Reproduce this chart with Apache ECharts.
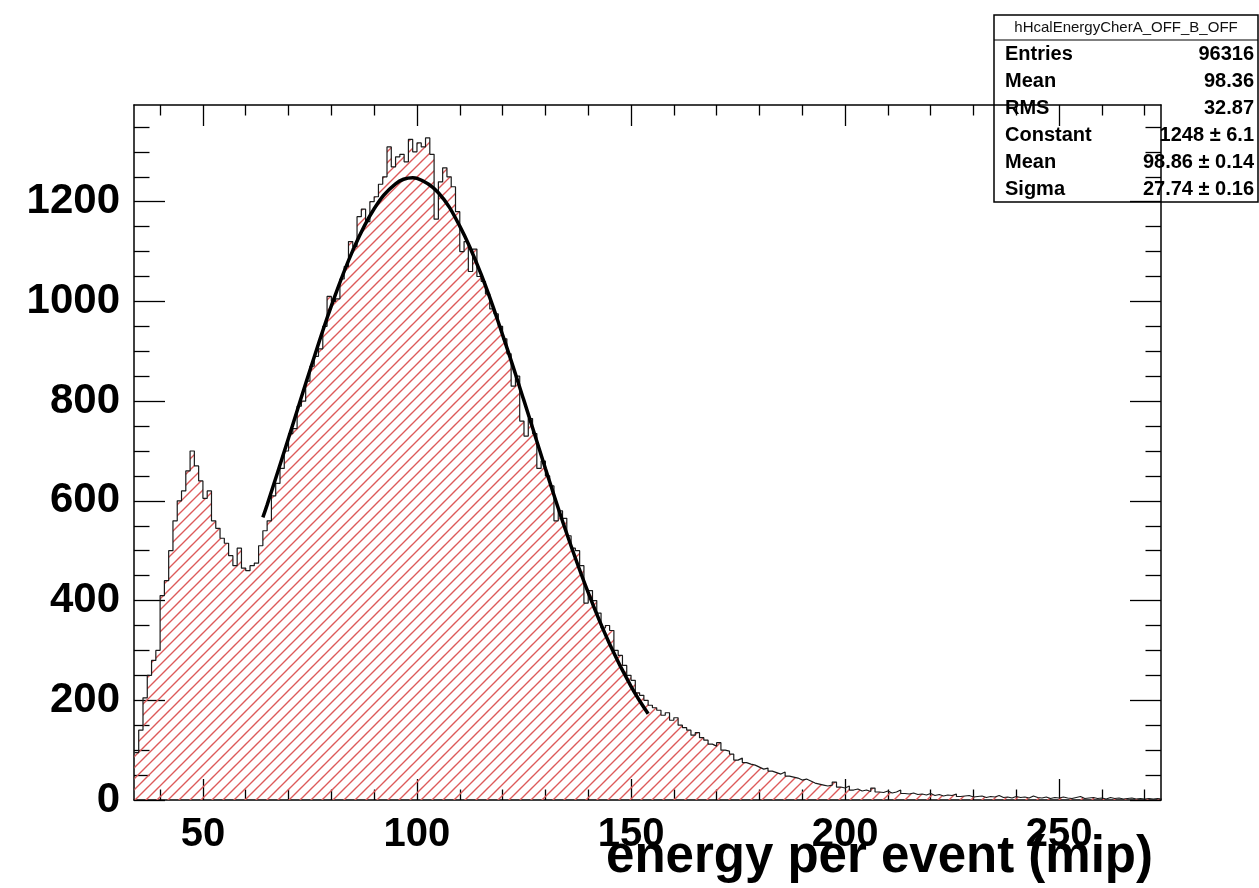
<!DOCTYPE html>
<html><head><meta charset="utf-8">
<script src="https://cdn.jsdelivr.net/npm/echarts@6/dist/echarts.min.js"></script>
<style>html,body{margin:0;padding:0;background:#fff}#c{width:1259px;height:888px}</style>
</head><body><div id="c"></div>
<script>
// ---- data ----
const binStart = 34;      // left edge of first bin (mip)
const binWidth = 1;       // bin width (mip)
const counts = [
  95,140,205,250,280,300,410,440,500,560,600,620,660,700,670,640,605,620,560,545,525,515,490,470,505,465,460,470,475,510,540,560,
  610,635,665,700,735,745,790,800,840,870,
  890,905,950,1010,1000,1005,1045,1070,1120,1110,
  1170,1185,1160,1200,1210,1235,1250,1310,1270,1290,
  1295,1280,1325,1300,1318,1310,1328,1295,1165,1240,
  1268,1250,1230,1180,1100,1120,1060,1105,1050,1040,
  1015,985,975,950,925,895,830,850,760,730,
  765,735,665,680,650,630,560,580,565,530,
  505,500,470,395,420,400,375,345,350,340,
  300,290,270,250,240,215,210,200,190,
  185,180,170,175,160,165,150,145,140,130,
  135,125,120,112,108,115,100,98,92,80,
  84,75,72,70,66,62,64,58,55,52,
  56,48,46,44,40,42,38,34,32,30,
  28,30,36,26,24,28,20,22,18,20,
  17,24,16,15,18,14,16,20,13,12,
  14,11,12,10,13,9,11,8,10,9,
  12,7,8,9,6,7,8,5,7,6,
  9,5,6,4,7,5,6,4,8,5,
  4,6,3,5,4,6,4,3,5,7,
  3,4,5,3,4,2,5,3,4,2,
  3,4,2,3,2,3,2,3,2
];
const fitX = [64,65,70,75,80,85,90,95,99,100,105,110,115,120,125,130,135,140,145,150,154];
const fitY = [567,592,726,862,991,1102,1186,1236,1248,1247,1218,1151,1054,933,801,665,534,416,313,228,173];

const xMin = 33.9, xMax = 273.8;
const yMin = 0, yMax = 1394;
const xMajorTicks = [50,100,150,200,250];
const xMinorTicks = [40,60,70,80,90,110,120,130,140,160,170,180,190,210,220,230,240,260,270];
const yMajorTicks = [0,200,400,600,800,1000,1200];
const yMinorTicks = [50,100,150,250,300,350,450,500,550,650,700,750,850,900,950,1050,1100,1150,1250,1300,1350];
const xTitle = 'energy per event (mip)';
const statsTitle = 'hHcalEnergyCherA_OFF_B_OFF';
const statsNames = ['Entries','Mean','RMS','Constant','Mean','Sigma'];
const statsValues = ['96316','98.36','32.87','1248 \u00b1 6.1','98.86 \u00b1 0.14','27.74 \u00b1 0.16'];

// ---- build ----
const FONT = '"Liberation Sans", Arial, Helvetica, sans-serif';
function hatch(){
  const c = document.createElement('canvas'); c.width = 11; c.height = 11;
  const g = c.getContext('2d');
  g.strokeStyle = '#dd5a5a'; g.lineWidth = 1.4;
  g.beginPath();
  g.moveTo(0,11); g.lineTo(11,0);
  g.moveTo(-2,2); g.lineTo(2,-2);
  g.moveTo(9,13); g.lineTo(13,9);
  g.stroke();
  return c;
}
const histData = counts.map((c,i)=>[binStart+i*binWidth, c]);
histData.push([binStart+counts.length*binWidth, counts[counts.length-1]]);
const fitData = fitX.map((x,i)=>[x, fitY[i]]);

const lineSt = {color:'#000', width:1.5};
const plain = v => String(v);
function xAx(pos, ticks, len, showLine, labels){
  return {type:'value', position:pos, min:xMin, max:xMax, gridIndex:0,
    splitLine:{show:false},
    axisLine:{show:showLine, onZero:false, lineStyle:lineSt},
    axisTick:{show:true, inside:true, length:len, customValues:ticks, lineStyle:{color:'#000', width:1.3}},
    axisLabel: labels ? {show:true, customValues:ticks, formatter:plain, margin:15, fontSize:40, fontWeight:'bold', fontFamily:FONT, color:'#000'} : {show:false}
  };
}
function yAx(pos, ticks, len, showLine, labels){
  return {type:'value', position:pos, min:yMin, max:yMax, gridIndex:0,
    splitLine:{show:false},
    axisLine:{show:showLine, onZero:false, lineStyle:lineSt},
    axisTick:{show:true, inside:true, length:len, customValues:ticks, lineStyle:{color:'#000', width:1.3}},
    axisLabel: labels ? {show:true, customValues:ticks, formatter:plain, margin:14, fontSize:42, fontWeight:'bold', fontFamily:FONT, color:'#000'} : {show:false}
  };
}
const xa0 = xAx('bottom', xMajorTicks, 21, true, true);
xa0.name = xTitle;
xa0.nameLocation = 'end';
xa0.nameGap = -8;
xa0.nameMoveOverlap = false;
xa0.nameTextStyle = {fontSize:51, fontWeight:'bold', fontFamily:FONT, color:'#000', align:'right', verticalAlign:'top', padding:[32,0,0,0]};

const statsChildren = [
  {type:'rect', shape:{x:994,y:15,width:264,height:187}, style:{fill:'#fff', stroke:'#000', lineWidth:1.5}},
  {type:'line', shape:{x1:994,y1:40,x2:1258,y2:40}, style:{stroke:'#000', lineWidth:1.2}},
  {type:'text', x:1126, y:28, style:{text:statsTitle, font:'15px '+FONT, fill:'#111', align:'center', verticalAlign:'middle'}}
];
statsNames.forEach((n,i)=>{
  const y = 54 + i*27;
  statsChildren.push({type:'text', x:1005, y:y, style:{text:n, font:'bold 20px '+FONT, fill:'#000', align:'left', verticalAlign:'middle'}});
  statsChildren.push({type:'text', x:1254, y:y, style:{text:statsValues[i], font:'bold 20px '+FONT, fill:'#000', align:'right', verticalAlign:'middle'}});
});

const chart = echarts.init(document.getElementById('c'), null, {renderer:'canvas'});
chart.setOption({
  animation:false,
  backgroundColor:'#fff',
  grid:{left:134, right:98, top:105, bottom:88, containLabel:false, outerBoundsMode:'none'},
  xAxis:[
    xa0,
    xAx('bottom', xMinorTicks, 10.5, false, false),
    xAx('top', xMajorTicks, 21, true, false),
    xAx('top', xMinorTicks, 10.5, false, false)
  ],
  yAxis:[
    yAx('left', yMajorTicks, 31, true, true),
    yAx('left', yMinorTicks, 15.5, false, false),
    yAx('right', yMajorTicks, 31, true, false),
    yAx('right', yMinorTicks, 15.5, false, false)
  ],
  series:[
    {type:'line', xAxisIndex:0, yAxisIndex:0, step:'end', data:histData, symbol:'none',
     lineStyle:{color:'#1a1a1a', width:1.2},
     areaStyle:{color:{image:hatch(), repeat:'repeat'}, opacity:1}, z:2},
    {type:'line', xAxisIndex:0, yAxisIndex:0, data:fitData, symbol:'none', smooth:0.4,
     lineStyle:{color:'#000', width:3.5}, z:3}
  ],
  graphic:[{type:'group', z:100, children:statsChildren}]
});
</script></body></html>
